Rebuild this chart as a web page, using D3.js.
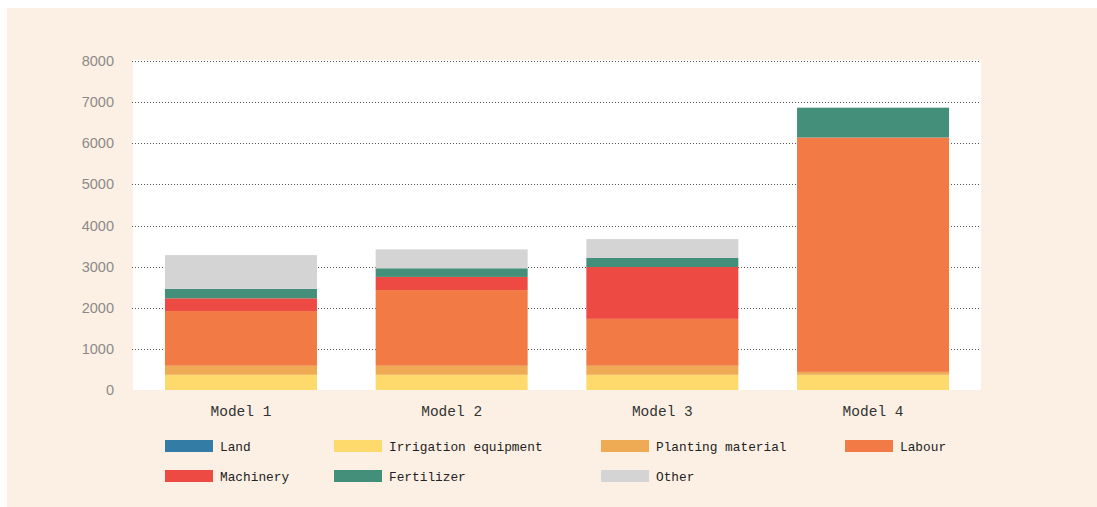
<!DOCTYPE html>
<html>
<head>
<meta charset="utf-8">
<script src="https://cdn.jsdelivr.net/npm/d3@7"></script>
<style>
  html, body { margin: 0; padding: 0; background: #ffffff; }
  svg { display: block; }
</style>
</head>
<body>
<script>
// data
var models = ["Model 1", "Model 2", "Model 3", "Model 4"];
var seriesNames = ["Land", "Irrigation equipment", "Planting material", "Labour", "Machinery", "Fertilizer", "Other"];
var seriesColors = ["#337ca5", "#fed96c", "#efaa54", "#f17a45", "#ec4a43", "#448f79", "#d3d4d3"];
var land        = [0, 0, 0, 0];
var irrigation  = [370, 370, 370, 370];
var planting    = [220, 220, 220, 70];
var labour      = [1330, 1840, 1140, 5700];
var machinery   = [310, 320, 1260, 0];
var fertilizer  = [230, 210, 220, 725];
var other       = [820, 460, 460, 0];
var yTicks = [0, 1000, 2000, 3000, 4000, 5000, 6000, 7000, 8000];

var width = 1097, height = 507;
var plot = { left: 133, right: 981, top: 60, bottom: 391 };

var svg = d3.select("body").append("svg")
    .attr("width", width)
    .attr("height", height);

// cream panel
svg.append("rect")
    .attr("x", 7).attr("y", 8)
    .attr("width", width - 7).attr("height", height - 8)
    .attr("fill", "#fcf0e4");

// white plot area
svg.append("rect")
    .attr("x", plot.left).attr("y", plot.top)
    .attr("width", plot.right - plot.left).attr("height", plot.bottom - 1 - plot.top)
    .attr("fill", "#ffffff");

var x = d3.scaleBand()
    .domain(models)
    .range([plot.left, plot.right])
    .paddingInner(0.2786)
    .paddingOuter(0.1517);

var y = d3.scaleLinear()
    .domain([0, 8000])
    .range([plot.bottom - 1, 61]);

// grid lines
svg.append("g")
    .selectAll("line")
    .data(yTicks.filter(function(d) { return d > 0; }))
    .join("line")
    .attr("x1", plot.left - 1)
    .attr("x2", plot.right)
    .attr("y1", function(d) { return Math.round(y(d)) + 0.5; })
    .attr("y2", function(d) { return Math.round(y(d)) + 0.5; })
    .attr("stroke", "#555")
    .attr("stroke-width", 1)
    .attr("stroke-dasharray", "1,2");

// y labels
svg.append("g")
    .selectAll("text")
    .data(yTicks)
    .join("text")
    .attr("x", 114)
    .attr("y", function(d) { return y(d); })
    .attr("dy", "0.35em")
    .attr("text-anchor", "end")
    .attr("font-family", "'Liberation Sans', Arial, sans-serif")
    .attr("font-size", 14.5)
    .attr("fill", "#8c8a88")
    .text(function(d) { return d; });

// stacked bars
var table = models.map(function(m, i) {
    return {
        model: m,
        "Land": land[i],
        "Irrigation equipment": irrigation[i],
        "Planting material": planting[i],
        "Labour": labour[i],
        "Machinery": machinery[i],
        "Fertilizer": fertilizer[i],
        "Other": other[i]
    };
});

var stacked = d3.stack().keys(seriesNames)(table);

svg.append("g")
    .selectAll("g")
    .data(stacked)
    .join("g")
    .attr("fill", function(d, i) { return seriesColors[i]; })
    .selectAll("rect")
    .data(function(d) { return d; })
    .join("rect")
    .attr("x", function(d) { return x(d.data.model); })
    .attr("width", x.bandwidth())
    .attr("y", function(d) { return y(d[1]); })
    .attr("height", function(d) { return Math.max(0, y(d[0]) - y(d[1])); });

// x labels
svg.append("g")
    .selectAll("text")
    .data(models)
    .join("text")
    .attr("x", function(d) { return x(d) + x.bandwidth() / 2; })
    .attr("y", 416)
    .attr("text-anchor", "middle")
    .attr("font-family", "'Liberation Mono', 'DejaVu Sans Mono', monospace")
    .attr("font-size", 14.5)
    .attr("fill", "#333")
    .text(function(d) { return d; });

// legend
var legendX = [165, 334, 601, 845];
var legendY = [440, 470];
var legend = svg.append("g")
    .selectAll("g")
    .data(seriesNames)
    .join("g")
    .attr("transform", function(d, i) {
        return "translate(" + legendX[i % 4] + "," + legendY[Math.floor(i / 4)] + ")";
    });

legend.append("rect")
    .attr("width", 48)
    .attr("height", 12)
    .attr("fill", function(d, i) { return seriesColors[i]; });

legend.append("text")
    .attr("x", 55)
    .attr("y", 6)
    .attr("dy", "0.38em")
    .attr("font-family", "'Liberation Mono', 'DejaVu Sans Mono', monospace")
    .attr("font-size", 12.8)
    .attr("fill", "#222")
    .text(function(d) { return d; });
</script>
</body>
</html>
